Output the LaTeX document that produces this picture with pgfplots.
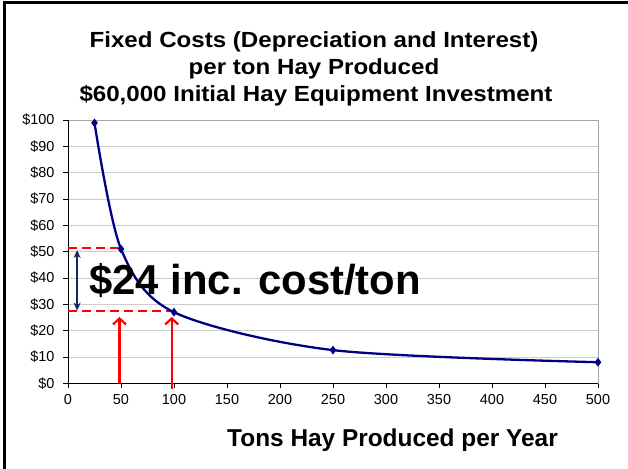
\documentclass[border=0pt]{standalone}
\usepackage{fontspec}
\setmainfont{Liberation Sans}
\usepackage{pgfplots}
\pgfplotsset{compat=1.18}
\usetikzlibrary{arrows.meta}
\definecolor{navyline}{RGB}{0,0,128}
\definecolor{darknavy}{RGB}{20,40,90}
\begin{document}
\begin{tikzpicture}[x=1bp,y=1bp]
\useasboundingbox (0,0) rectangle (628,469);
\draw[line width=3bp] (4.5,0) -- (4.5,466) -- (628,466);
\node[anchor=base, inner sep=0, font=\bfseries\fontsize{22}{26}\selectfont] at (314,421) {\scalebox{1.1}[1]{Fixed Costs (Depreciation and Interest)}};
\node[anchor=base, inner sep=0, font=\bfseries\fontsize{22}{26}\selectfont] at (314,394) {\scalebox{1.1}[1]{per ton Hay Produced}};
\node[anchor=base, inner sep=0, font=\bfseries\fontsize{22}{26}\selectfont] at (316,367) {\scalebox{1.1}[1]{\$60,000 Initial Hay Equipment Investment}};
\node[anchor=base, inner sep=0, font=\bfseries\fontsize{24.5}{28}\selectfont] at (392.5,22) {Tons Hay Produced per Year};
\begin{axis}[
  at={(68bp,85.7bp)}, anchor=south west, scale only axis,
  width=530bp, height=263.3bp,
  xmin=0, xmax=500, ymin=0, ymax=100,
  xtick={0,50,...,500}, ytick={0,10,...,100},
  ymajorgrids, grid style={gray!40, line width=0.8bp},
  axis line style={gray!70, line width=0.8bp},
  tick style={black, line width=0.6bp},
  tick align=outside, major tick length=5bp,
  xtick pos=lower, ytick pos=left,
  ticklabel style={font=\fontsize{14.5}{16}\selectfont},
  xticklabel style={yshift=-3bp},
  yticklabel style={xshift=-5bp},
  /pgf/number format/assume math mode=true,
  yticklabel={\$\pgfmathprintnumber{\tick}},
  clip=false,
]
\draw[black, line width=0.8bp] (rel axis cs:0,1) -- (rel axis cs:0,0) -- (rel axis cs:1,0);
\addplot[red, line width=2.2bp, dash pattern=on 9bp off 5bp] coordinates {(0,51.3) (50,51.3)};
\addplot[red, line width=2.2bp, dash pattern=on 9bp off 5bp] coordinates {(0,27.4) (100,27.4)};
\addplot[red, line width=2.2bp, -{Straight Barb[length=6bp, width=13bp]}] coordinates {(48.6,0) (48.6,25.2)};
\addplot[red, line width=2.2bp, -{Straight Barb[length=6bp, width=13bp]}] coordinates {(97.8,-2) (97.8,25.2)};
\addplot[darknavy, line width=1.8bp, {Stealth[length=8bp,width=7bp]}-{Stealth[length=8bp,width=7bp]}] coordinates {(8.6,50.6) (8.6,27.6)};
\addplot[navyline, line width=2.3bp, smooth, mark=diamond*, mark size=2.5bp, mark options={solid}] coordinates {(25,98.9) (50,51.0) (100,27.0) (250,12.6) (500,8.0)};
\end{axis}
\node[anchor=base west, inner sep=0, font=\bfseries\fontsize{42}{48}\selectfont] at (89,174) {\$24 inc. cost/ton};
\end{tikzpicture}
\end{document}
